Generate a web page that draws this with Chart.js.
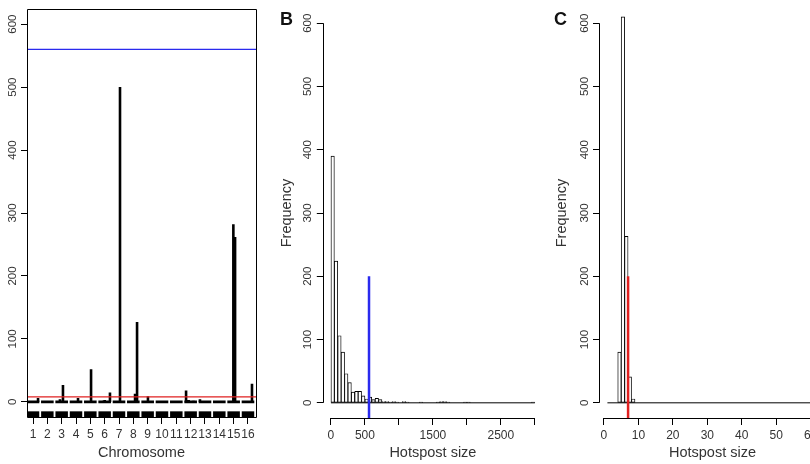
<!DOCTYPE html>
<html>
<head>
<meta charset="utf-8">
<script src="https://cdn.jsdelivr.net/npm/chart.js@4.4.1/dist/chart.umd.min.js"></script>
<style>
html, body { margin: 0; padding: 0; background: #fff; width: 810px; height: 464px; overflow: hidden; }
canvas { position: absolute; top: 0; }
#ca { left: 0; }
#cb { left: 270px; }
#cc { left: 550px; }
.tag { position: absolute; top: 10px; font: bold 18px "Liberation Sans", Arial, sans-serif; line-height: 18px; color: #111; }
</style>
</head>
<body>
<canvas id="ca" width="270" height="464"></canvas>
<canvas id="cb" width="280" height="464"></canvas>
<canvas id="cc" width="290" height="464"></canvas>
<div class="tag" style="left:280px">B</div>
<div class="tag" style="left:554px">C</div>
<script>
// panel A: hotspots along the genome
const chromosomes = ['1', '2', '3', '4', '5', '6', '7', '8', '9', '10', '11', '12', '13', '14', '15', '16'];
const peakPos = [1.35, 2.88, 3.09, 4.14, 5.05, 5.92, 6.0, 6.37, 7.07, 8.12, 8.26, 9.02, 11.68, 11.86, 12.2, 12.65, 13.8, 14.05, 14.98, 15.10, 16.28];
const peakHeight = [6, 4, 27, 6, 52, 2, 3, 15, 500, 13, 127, 9, 18, 3, 2, 4, 1, 1, 282, 262, 29];
const redLineA = 8;
const blueLineA = 560;

// panel B: hotspot size histogram (bins of 50)
const binWidthB = 50;
const countsB = [390, 224, 106, 80, 46, 32, 17, 18, 18, 11, 6, 9, 5, 7, 5, 2, 2, 1, 2, 1,
                 0, 2, 1, 0, 0, 0, 1, 0, 0, 0, 0, 1, 2, 2, 1, 0, 0, 0, 0, 1,
                 1, 0, 0, 0, 0, 0, 0, 0, 0, 0, 0, 0, 0, 0, 0, 0, 0, 0, 0, 1];
const blueLineB = 560;

// panel C: hotspot size histogram under permutation (bins of 1, from 1)
const startC = 1;
const countsC = [0, 0, 0, 80, 610, 263, 41, 6, 0, 0, 0, 0, 0, 0, 0, 0, 0, 0, 0, 0,
                 0, 0, 0, 0, 0, 0, 0, 0, 0, 0, 0, 0, 0, 0, 0, 0, 0, 0, 0, 0,
                 0, 0, 0, 0, 0, 0, 0, 0, 0, 0, 0, 0, 0, 0, 0, 0, 0, 0, 0, 0, 0];
const redLineC = 7;

const yMin = -24, yMax = 624;
const yTicks = [0, 100, 200, 300, 400, 500, 600];
const xTicksB = [0, 500, 1000, 1500, 2000, 2500, 3000];
const xLabelsB = ['0', '500', '', '1500', '', '2500', ''];
const xTicksC = [0, 10, 20, 30, 40, 50, 60];
const xLabelsC = ['0', '10', '20', '30', '40', '50', '60'];

Chart.defaults.font.family = '"Liberation Sans", Arial, sans-serif';
Chart.defaults.color = '#333';

// R style axes: a box for A, axis lines from first to last tick for B and C
const rAxes = {
  id: 'rAxes',
  afterDraw(chart, args, opts) {
    const { ctx, chartArea: a, scales: { x, y } } = chart;
    const al = v => Math.round(v) + 0.5;
    ctx.save();
    ctx.strokeStyle = '#000';
    ctx.lineWidth = 1;
    ctx.beginPath();
    if (opts.box) {
      ctx.rect(al(a.left), al(a.top), Math.round(a.right - a.left), Math.round(a.bottom - a.top));
    } else {
      const xt = x.ticks, yt = y.ticks;
      ctx.moveTo(x.getPixelForValue(xt[0].value), al(a.bottom));
      ctx.lineTo(x.getPixelForValue(xt[xt.length - 1].value), al(a.bottom));
      ctx.moveTo(al(a.left), y.getPixelForValue(yt[0].value));
      ctx.lineTo(al(a.left), y.getPixelForValue(yt[yt.length - 1].value));
    }
    ctx.stroke();
    ctx.restore();
  }
};

function yScale(width, title, titlePad) {
  return {
    type: 'linear', min: yMin, max: yMax, bounds: 'data',
    afterBuildTicks: s => { s.ticks = yTicks.map(v => ({ value: v })); },
    afterFit: s => { s.width = width; },
    border: { display: false },
    grid: { drawOnChartArea: false, tickLength: 6, color: '#000' },
    ticks: { minRotation: 90, maxRotation: 90, crossAlign: 'center', padding: -1, font: { size: 11.5 } },
    title: title ? { display: true, text: title, font: { size: 14.5 }, padding: { top: titlePad, bottom: 0 } } : { display: false }
  };
}

function xScale(min, max, ticks, labels, height, title) {
  return {
    type: 'linear', min: min, max: max, offset: false, bounds: 'data',
    afterBuildTicks: s => { s.ticks = ticks.map(v => ({ value: v })); },
    afterFit: s => { s.height = height; },
    border: { display: false },
    grid: { drawOnChartArea: false, offset: false, tickLength: 7, color: '#000' },
    ticks: { autoSkip: false, minRotation: 0, maxRotation: 0, padding: 3, font: { size: 12 }, callback: (v, i) => labels[i] },
    title: { display: true, text: title, font: { size: 14.5 }, padding: { top: 0, bottom: 2 } }
  };
}

const common = {
  responsive: false,
  animation: false,
  events: [],
  plugins: { legend: { display: false }, tooltip: { enabled: false } }
};

function lineDs(data, color, width) {
  return { type: 'line', data: data, borderColor: color, borderWidth: width, pointRadius: 0,
           fill: false, tension: 0, spanGaps: false, borderCapStyle: 'butt' };
}

// ---- panel A
const peaksA = [];
peakPos.forEach((p, i) => { peaksA.push({ x: p, y: 0 }, { x: p, y: peakHeight[i] }, { x: p, y: null }); });
const baseA = [];
chromosomes.forEach((c, i) => { baseA.push({ x: i + 1 - 0.44, y: 0 }, { x: i + 1 + 0.44, y: 0 }, { x: i + 1 + 0.44, y: null }); });
const xMinA = 0.58, xMaxA = 16.56;

new Chart(document.getElementById('ca'), {
  type: 'bar',
  data: {
    datasets: [
      lineDs([{ x: xMinA, y: blueLineA }, { x: xMaxA, y: blueLineA }], '#2a2aee', 1.3),
      lineDs([{ x: xMinA, y: redLineA }, { x: xMaxA, y: redLineA }], '#e02020', 1.3),
      lineDs(peaksA, '#000', 2.6),
      lineDs(baseA, '#000', 2.6),
      { type: 'bar', data: chromosomes.map((c, i) => ({ x: i + 1, y: [yMin, -15] })),
        backgroundColor: '#000', borderWidth: 0, barPercentage: 0.87, categoryPercentage: 1 }
    ]
  },
  options: Object.assign({}, common, {
    layout: { padding: { left: 0, right: 14, top: 9, bottom: 0 } },
    scales: {
      x: xScale(xMinA, xMaxA, chromosomes.map((c, i) => i + 1), chromosomes, 47, 'Chromosome'),
      y: yScale(27, null, 0)
    },
    plugins: Object.assign({}, common.plugins, { rAxes: { box: true } })
  }),
  plugins: [rAxes]
});

// ---- histogram panels
function histChart(id, counts, start, bw, xMin, xMax, xt, xl, vline, vcolor, yWidth, titlePad, padRight) {
  const bars = counts.map((c, i) => ({ x: start + (i + 0.5) * bw, y: c }));
  const base = [{ x: start, y: 0 }, { x: start + counts.length * bw, y: 0 }];
  new Chart(document.getElementById(id), {
    type: 'bar',
    data: {
      datasets: [
        lineDs([{ x: vline, y: yMin }, { x: vline, y: 200 }], vcolor, 2.5),
        lineDs(base, '#000', 1),
        { type: 'bar', data: bars, backgroundColor: '#fff', borderColor: '#000', borderWidth: 0.9,
          borderSkipped: false, barPercentage: 1, categoryPercentage: 1 }
      ]
    },
    options: Object.assign({}, common, {
      layout: { padding: { left: 0, right: padRight, top: 8, bottom: 0 } },
      scales: {
        x: xScale(xMin, xMax, xt, xl, 46, 'Hotspost size'),
        y: yScale(yWidth, 'Frequency', titlePad)
      },
      plugins: Object.assign({}, common.plugins, { rAxes: { box: false } })
    }),
    plugins: [rAxes]
  });
}

histChart('cb', countsB, 0, binWidthB, -120, 3120, xTicksB, xLabelsB, blueLineB, '#2a2aee', 52.8, 8.3, 7);
histChart('cc', countsC, startC, 1, -1.44, 64.44, xTicksC, xLabelsC, redLineC, '#e02020', 49, 3.3, 14);
</script>
</body>
</html>
